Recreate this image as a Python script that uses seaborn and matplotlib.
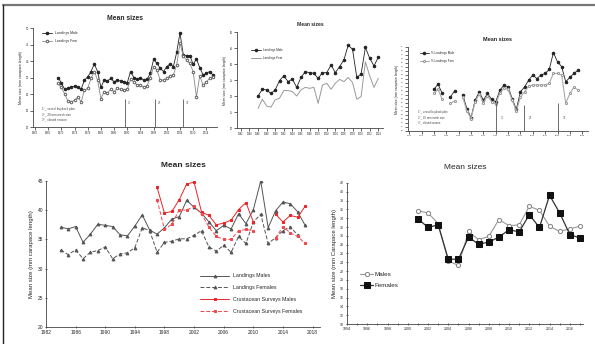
import numpy as np
import pandas as pd
import seaborn as sns
import matplotlib.pyplot as plt
from matplotlib.lines import Line2D

# ---- data ----
# top-left: landings 1969-2016
tl_years = list(range(1969, 2017))
tl_males = [35.0, 33.4, 31.4, 31.7, 32.0, 32.4, 32.0, 31.4, 34.2, 35.2,
            36.8, 39.1, 36.8, 32.0, 34.2, 34.0, 34.7, 33.7, 34.2, 33.9,
            33.7, 33.4, 36.8, 35.0, 34.4, 35.0, 34.2, 34.4, 36.3, 40.5,
            39.3, 37.8, 36.8, 38.3, 39.1, 38.3, 42.6, 48.5, 41.9, 41.6,
            41.6, 39.0, 40.6, 38.0, 35.8, 36.3, 36.8, 35.8]
tl_females = [33.2, 32.0, 30.0, 27.9, 27.6, 28.1, 29.1, 27.6, 31.2, 31.7,
              34.7, 36.8, 34.2, 28.6, 30.7, 30.4, 31.4, 30.7, 31.7, 31.4,
              31.2, 31.4, 34.4, 33.7, 32.7, 32.7, 32.0, 32.4, 35.0, 38.3,
              37.3, 34.2, 34.2, 34.7, 35.5, 35.8, 38.8, 45.4, 41.5, 40.3,
              39.3, 36.8, 29.1, 35.5, 32.7, 33.7, 34.7, 35.3]
tl_events = [1989.3, 1998.4, 2006.9]

# top-middle: landings 1986-2014
tm_years = list(range(1986, 2015))
tm_males = [30.0, 32.1, 31.9, 30.8, 31.9, 34.8, 36.3, 34.5, 35.3, 32.7,
            35.8, 37.6, 37.3, 37.1, 35.5, 37.3, 37.3, 39.7, 37.3, 39.2,
            41.3, 45.9, 44.6, 35.8, 36.9, 45.2, 41.8, 39.4, 42.1]
tm_females = [26.1, 29.0, 26.9, 26.5, 28.8, 29.3, 31.7, 31.7, 31.4, 30.0,
              31.9, 32.7, 32.4, 32.7, 27.7, 33.4, 34.0, 32.1, 34.0, 35.2,
              34.5, 35.8, 34.2, 29.0, 29.8, 40.7, 36.3, 32.7, 35.5]

# top-right: landings 1980-2015
tr_years = list(range(1980, 2016))
tr_males = [30.4, 31.7, 29.4, np.nan, 28.5, 30.0, np.nan, 29.0, 25.6, 23.3,
            27.7, 29.8, 27.7, 29.4, 27.9, 27.3, 30.2, 31.5, 31.0, 28.1,
            25.4, 29.8, 31.0, 32.7, 34.0, 33.1, 34.0, 34.4, 35.4, 39.6,
            37.3, 36.1, 32.3, 33.4, 34.4, 35.2]
tr_females = [29.4, 30.4, 27.9, np.nan, 26.9, 27.5, np.nan, 28.4, 25.0, 23.1,
              27.3, 29.2, 27.1, 28.8, 27.3, 26.7, 29.5, 30.8, 30.4, 27.7,
              24.9, 28.5, 29.8, 31.2, 31.5, 31.5, 31.5, 31.5, 31.9, 34.4,
              34.4, 34.0, 26.9, 29.4, 31.0, 30.2]
tr_events = [1995.0, 2001.9, 2010.0]

event_notes = ["1\u00b0_ vessel buyback plan",
               "2\u00b0_ 20 mm mesh size",
               "3\u00b0_ closed season"]

# bottom-left: landings and crustacean surveys 1984-2017
bl_years = list(range(1984, 2018))
bl_land_males = [37.1, 36.8, 37.2, 34.5, 35.9, 37.6, 37.4, 37.2, 35.8, 35.6,
                 37.3, 39.2, 36.6, 35.9, 37.0, 38.5, 38.9, 41.7, 40.5, 39.5,
                 38.0, 36.5, 37.4, 36.8, 39.4, 37.7, 40.1, 45.0, 37.0, 39.9,
                 41.4, 41.1, 39.7, 37.4]
bl_land_females = [33.2, 32.4, 33.2, 31.7, 32.8, 33.1, 33.7, 31.7, 32.5, 32.7,
                   33.6, 37.0, 36.5, 32.8, 34.5, 34.7, 35.1, 35.1, 35.7, 36.5,
                   33.7, 33.0, 34.0, 32.8, 35.5, 34.3, 38.0, 39.3, 34.3, 35.3,
                   36.5, 37.2, 35.7, np.nan]
bl_surv_males = [np.nan] * 13 + [43.9, 39.5, 39.8, 41.8, 44.5, 44.8, 39.7,
                                 39.1, 37.5, 37.8, 38.3, 40.1, 41.3, 38.0,
                                 np.nan, np.nan, 39.3, 38.0, 39.1, 38.8, 40.7]
bl_surv_females = [np.nan] * 13 + [41.8, 36.7, 37.6, 40.1, 40.0, 40.7, 39.4,
                                   37.1, 35.5, 35.0, 35.0, 36.5, 36.7, 36.5,
                                   np.nan, np.nan, 35.2, 37.2, 36.1, 35.5, 34.3]

# bottom-right: 2001-2017
br_years = list(range(2001, 2018))
br_males = [35.7, 35.2, 32.8, 24.3, 23.3, 31.0, 29.1, 29.9, 33.7, 32.3,
            32.5, 36.7, 35.8, 32.2, 31.0, 31.6, 32.2]
br_females = [33.9, 31.9, 32.5, 24.7, 24.7, 29.7, 28.1, 28.6, 29.7, 31.4,
              30.9, 34.8, 31.9, 39.2, 35.2, 30.3, 29.5]


def draw(ax, years, vals, label, **kw):
    # plot contiguous runs separately so missing years leave a gap
    df = pd.DataFrame({"year": years, "size": vals})
    ok = df["size"].notna()
    run = (~ok).cumsum()[ok]
    first = True
    for _, part in df[ok].groupby(run):
        sns.lineplot(data=part, x="year", y="size", ax=ax,
                     label=label if first else None, **kw)
        first = False


def style_axes(ax, fs, direction="out"):
    sns.despine(ax=ax)
    ax.tick_params(labelsize=fs, length=2, width=0.5, pad=1, direction=direction)
    ax.tick_params(which="minor", length=2, width=0.5, direction=direction)
    for s in ax.spines.values():
        s.set_linewidth(0.6)
        s.set_color("#444444")
    ax.set_xlabel("")


sns.set_style("ticks")
plt.rcParams["font.family"] = ["Liberation Sans", "DejaVu Sans"]

fig = plt.figure(figsize=(5.95, 3.44), dpi=100)

# ---- top-left ----
ax1 = fig.add_axes([0.0555, 0.6308, 0.309, 0.2878])
draw(ax1, tl_years, tl_males, "Landings Male", color="#222222", lw=0.6,
     marker="o", markersize=1.8, markeredgecolor="#222222", markerfacecolor="#222222")
draw(ax1, tl_years, tl_females, "Landings Fem", color="#888888", lw=0.6,
     marker="o", markersize=1.8, markeredgecolor="#666666", markerfacecolor="white")
for yr, tag in zip(tl_events, ["1\u00b0", "2\u00b0", "3\u00b0"]):
    ax1.vlines(yr, 20, 28.5, color="#555555", lw=0.6)
    ax1.text(yr + 0.8, 27, tag, fontsize=2.5, color="#444444")
ax1.text(0.05, 0.2, "\n".join(event_notes), transform=ax1.transAxes,
         fontsize=2.2, va="top", linespacing=1.4, color="#444444")
ax1.set_xlim(1961.4, 2017.2)
ax1.set_xticks(range(1962, 2017, 4))
ax1.set_ylim(20, 50)
ax1.set_yticks(range(20, 51, 5))
style_axes(ax1, 2)
ax1.set_ylabel("Mean size (mm carapace length)", fontsize=2.6, labelpad=2)
ax1.set_title("Mean sizes", fontsize=4.9, fontweight="bold", pad=6)
ax1.legend(loc="upper left", bbox_to_anchor=(0.03, 1.0), frameon=False,
           fontsize=2.5, handlelength=3, labelspacing=1.2)

# ---- top-middle ----
ax2 = fig.add_axes([0.3983, 0.6279, 0.2454, 0.279])
draw(ax2, tm_years, tm_males, "Landings Male", color="#222222", lw=0.6,
     marker="o", markersize=1.8, markeredgecolor="#222222", markerfacecolor="#222222")
draw(ax2, tm_years, tm_females, "Landings Fem", color="#999999", lw=0.7)
ax2.set_xlim(1981.1, 2015.1)
ax2.set_xticks(range(1982, 2016, 2))
ax2.set_ylim(20, 50)
ax2.set_yticks(range(20, 51, 5))
style_axes(ax2, 1.8)
ax2.set_ylabel("Mean size (mm carapace length)", fontsize=2.4, labelpad=2)
ax2.set_title("Mean sizes", fontsize=3.6, fontweight="bold", pad=4)
ax2.legend(loc="upper left", bbox_to_anchor=(0.08, 0.86), frameon=False,
           fontsize=2.2, handlelength=3, labelspacing=1.2)

# ---- top-right ----
ax3 = fig.add_axes([0.6857, 0.6192, 0.3025, 0.2442])
draw(ax3, tr_years, tr_males, "% Landings Male", color="#222222", lw=0.6,
     marker="o", markersize=1.8, markeredgecolor="#222222", markerfacecolor="#222222")
draw(ax3, tr_years, tr_females, "% Landings Fem", color="#aaaaaa", lw=0.8,
     marker="o", markersize=1.5, markeredgecolor="#999999", markerfacecolor="white")
for yr, tag, top in zip(tr_events, ["1\u00b0", "2\u00b0", "3\u00b0"], [26.9, 26.4, 27.0]):
    ax3.vlines(yr, 20, top, color="#555555", lw=0.6)
    ax3.text(yr + 1.2, 23, tag, fontsize=2.5, color="#444444")
ax3.text(0.055, 0.25, "\n".join(event_notes), transform=ax3.transAxes,
         fontsize=2.0, va="top", linespacing=1.4, color="#444444")
ax3.set_xlim(1973.7, 2017.4)
ax3.set_xticks(range(1974, 2018, 3))
ax3.set_ylim(20, 41)
ax3.set_yticks(range(20, 42, 1))
style_axes(ax3, 1.6)
ax3.set_ylabel("Mean size (mm carapace length)", fontsize=2.4, labelpad=2)
ax3.set_title("Mean sizes", fontsize=4, fontweight="bold", pad=4.5)
ax3.legend(loc="upper left", bbox_to_anchor=(0.05, 0.98), frameon=False,
           fontsize=2.2, handlelength=3, labelspacing=1.2)

# ---- bottom-left ----
ax4 = fig.add_axes([0.0773, 0.0494, 0.4605, 0.4244])
draw(ax4, bl_years, bl_land_males, "Landings Males", color="#555555", lw=0.7,
     marker="^", markersize=2, markeredgecolor="#555555", markerfacecolor="#555555")
draw(ax4, bl_years, bl_land_females, "Landings Females", color="#555555", lw=0.7,
     linestyle=(0, (4, 2)), marker="^", markersize=2,
     markeredgecolor="#555555", markerfacecolor="#555555")
draw(ax4, bl_years, bl_surv_males, "Crustacean Surveys Males", color="#e8262b", lw=0.7,
     marker="s", markersize=2, markeredgecolor="#e8262b", markerfacecolor="#e8262b")
draw(ax4, bl_years, bl_surv_females, "Crustacean Surveys Females", color="#f0484c", lw=0.7,
     linestyle=(0, (4, 2)), marker="s", markersize=2,
     markeredgecolor="#f0484c", markerfacecolor="#f0484c")
ax4.set_xlim(1982, 2019)
ax4.set_xticks(range(1982, 2019, 4))
ax4.set_ylim(20, 45)
ax4.set_yticks(range(20, 46, 5))
style_axes(ax4, 3.5, direction="inout")
ax4.set_ylabel("Mean size (mm carapace length)", fontsize=4.3, labelpad=3)
ax4.set_title("Mean sizes", fontsize=6, fontweight="bold", pad=10)
ax4.legend(loc="upper left", bbox_to_anchor=(0.545, 0.40), frameon=False,
           fontsize=3.8, handlelength=5.5, labelspacing=1.3)

# ---- bottom-right ----
ax5 = fig.add_axes([0.5832, 0.0581, 0.3966, 0.41])
draw(ax5, br_years, br_males, "Males", color="#999999", lw=0.8,
     marker="o", markersize=3, markeredgecolor="#888888", markerfacecolor="white")
draw(ax5, br_years, br_females, "Females", color="#333333", lw=0.9,
     marker="s", markersize=4.2, markeredgecolor="#111111", markerfacecolor="#111111")
ax5.set_xlim(1994, 2017.3)
ax5.set_xticks(range(1994, 2018, 2))
ax5.set_xticks(range(1995, 2018, 2), minor=True)
ax5.set_ylim(10, 42)
ax5.set_yticks(range(10, 43, 2))
style_axes(ax5, 2.6, direction="inout")
ax5.set_ylabel("Mean size (mm Carapace length)", fontsize=4.3, labelpad=2)
ax5.set_title("Mean sizes", fontsize=6, pad=10)
ax5.legend(loc="upper left", bbox_to_anchor=(0.03, 0.41), frameon=False,
           fontsize=4.5, handlelength=2.2, labelspacing=0.9, handletextpad=0.2)

# frame round the whole picture
fig.add_artist(Line2D([3 / 595, 1.0], [1 - 5 / 344, 1 - 5 / 344],
                      transform=fig.transFigure, color="#777777", lw=1.6))
fig.add_artist(Line2D([3 / 595, 3 / 595], [0, 1 - 5 / 344],
                      transform=fig.transFigure, color="#222222", lw=1.0))

fig.savefig("out.png", dpi=100)
